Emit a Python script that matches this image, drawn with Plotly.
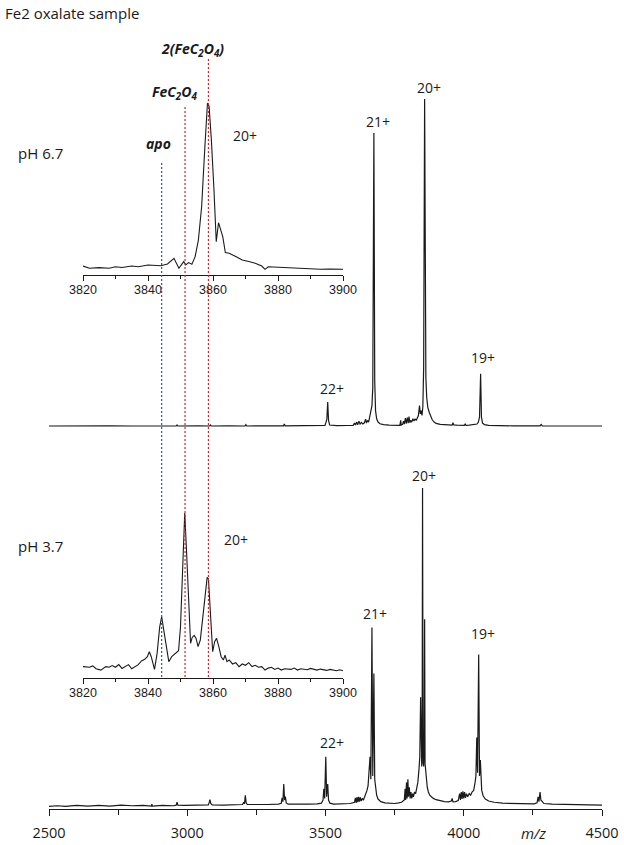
import plotly.graph_objects as go

W, H = 624, 845

# ---------------- data ----------------
# pH 6.7 full spectrum (m/z, relative intensity, 20+ = 100)
top_mz = [2500, 2560, 2640, 2720, 2800, 2880, 2960, 2963, 2966, 3040, 3081, 3084, 3087, 3150, 3209, 3212, 3215,
          3280, 3348, 3351, 3354, 3420, 3470, 3498, 3502, 3505, 3508, 3511, 3515, 3540, 3580, 3600, 3605, 3608,
          3613, 3616, 3621, 3625, 3630, 3635, 3640, 3645, 3648, 3652, 3656, 3660, 3664, 3668, 3671, 3675, 3678,
          3681, 3685, 3690, 3697, 3710, 3730, 3750, 3765, 3769, 3772, 3774, 3779, 3782, 3785, 3789, 3792, 3796,
          3799, 3802, 3805, 3808, 3812, 3816, 3820, 3824, 3828, 3832, 3836, 3840, 3843, 3846, 3849, 3852, 3855,
          3858.5, 3861, 3863, 3866, 3870, 3875, 3880, 3886, 3893, 3900, 3915, 3930, 3945, 3958, 3961, 3964, 3975,
          3990, 4002, 4005, 4008, 4020, 4030, 4040, 4048, 4053, 4057, 4061, 4064, 4068, 4075, 4090, 4120, 4180,
          4240, 4276, 4280, 4284, 4340, 4420, 4500]
top_int = [0.3, 0.35, 0.3, 0.35, 0.3, 0.35, 0.3, 0.6, 0.3, 0.35, 0.3, 0.6, 0.3, 0.35, 0.3, 0.7, 0.3,
           0.35, 0.35, 0.9, 0.35, 0.4, 0.4, 0.5, 1.5, 2.5, 7.6, 2.0, 0.6, 0.4, 0.45, 0.5, 1.2, 0.6,
           1.5, 0.7, 1.8, 0.9, 1.4, 0.9, 1.2, 2.4, 1.2, 2.0, 1.5, 3.0, 4.5, 6.5, 12, 89.6, 14,
           5, 2.5, 1.5, 1.0, 0.7, 0.6, 0.55, 0.6, 0.5, 2.0, 0.6, 0.8, 1.8, 0.9, 2.7, 1.0, 2.9,
           1.2, 3.2, 1.3, 2.0, 1.5, 2.5, 1.8, 2.5, 2.0, 3.0, 3.5, 6.5, 4.0, 5.0, 3.5, 6, 18,
           100, 30, 15, 9, 6, 4.5, 3.2, 2.2, 1.5, 1.1, 0.8, 0.7, 0.6, 0.6, 1.3, 0.6, 0.55,
           0.6, 0.5, 0.9, 0.5, 0.55, 0.6, 0.7, 0.9, 1.5, 3, 16.2, 3, 1.2, 0.7, 0.5, 0.4, 0.35,
           0.35, 0.35, 0.8, 0.35, 0.3, 0.3, 0.3]

# pH 3.7 full spectrum
bot_mz = [2500, 2530, 2560, 2600, 2640, 2680, 2720, 2760, 2800, 2840, 2870, 2872, 2874, 2910, 2950, 2960, 2963,
          2966, 2990, 3030, 3060, 3076, 3079, 3082, 3085, 3090, 3130, 3170, 3200, 3204, 3207, 3210, 3213, 3217,
          3250, 3290, 3330, 3340, 3343, 3346, 3349, 3352, 3355, 3358, 3365, 3400, 3440, 3470, 3485, 3491, 3494,
          3497, 3501, 3504, 3508, 3511, 3516, 3530, 3560, 3590, 3605, 3608, 3611, 3614, 3617, 3620, 3623, 3626,
          3629, 3633, 3637, 3642, 3646, 3650, 3654, 3658, 3661, 3664, 3668, 3671, 3675, 3678, 3681, 3685, 3690,
          3700, 3715, 3730, 3750, 3765, 3775, 3785, 3788, 3790, 3793, 3795, 3798, 3800, 3803, 3806, 3809, 3812,
          3815, 3818, 3822, 3826, 3830, 3834, 3838, 3841, 3844, 3846, 3848, 3849.5, 3851, 3853, 3855, 3857,
          3858.5, 3860, 3862, 3865, 3868, 3872, 3877, 3883, 3890, 3900, 3915, 3930, 3945, 3955, 3958, 3961,
          3970, 3980, 3985, 3988, 3991, 3994, 3997, 4000, 4003, 4006, 4010, 4014, 4020, 4025, 4030, 4036, 4041,
          4044, 4047, 4050, 4054, 4057, 4060, 4062, 4065, 4070, 4078, 4090, 4110, 4140, 4170, 4200, 4230, 4255,
          4265, 4269, 4272, 4276, 4279, 4283, 4290, 4320, 4360, 4400, 4440, 4470, 4500]
bot_int = [0.5, 0.7, 0.5, 0.8, 0.6, 0.8, 0.6, 0.9, 0.7, 0.8, 0.6, 1.2, 0.6, 0.8, 0.7, 0.9, 1.8,
           0.9, 0.8, 0.9, 0.8, 1.0, 1.6, 2.6, 1.4, 1.0, 0.9, 1.0, 1.1, 1.8, 1.3, 4.0, 1.6, 1.1,
           1.0, 1.1, 1.2, 1.5, 3.2, 2.0, 7.5, 2.5, 3.6, 1.6, 1.2, 1.1, 1.2, 1.3, 1.5, 2.5, 6,
           3, 16, 3.5, 7.5, 2.5, 1.5, 1.2, 1.2, 1.4, 1.8, 3.2, 1.6, 3.4, 1.8, 3.5, 2.0, 3.3,
           2.2, 3.0, 2.4, 3.5, 4.5, 5.5, 7, 12, 16, 9, 56.4, 10, 42, 9, 6, 4, 2.8,
           2.0, 1.6, 1.5, 1.4, 1.6, 1.8, 2.5, 6, 2.5, 8, 3, 9, 3.5, 6.5, 3, 5, 3,
           4.5, 3.5, 5, 4.5, 6, 8, 12, 16, 34.6, 14, 13, 22, 100, 14, 13, 20,
           59, 14, 12, 9, 6.5, 5, 4, 3.5, 3, 2.6, 2.2, 2.0, 1.9, 2.2, 3.0, 1.9,
           2.0, 2.3, 4.5, 2.5, 5, 2.8, 5.2, 3, 5, 3.2, 4.5, 3.5, 4.5, 4.0, 5, 5.5, 8,
           10, 22, 11, 48, 10, 15, 8, 5.5, 3.8, 2.8, 2.2, 1.8, 1.5, 1.4, 1.3, 1.3, 1.3,
           1.6, 3.5, 2, 5, 2.5, 2, 1.4, 1.2, 1.1, 1.0, 1.0, 0.9, 0.9]

# insets: 20+ region zoom
ins1_mz = [3820, 3822, 3825, 3828, 3830, 3832, 3835, 3837, 3840, 3842, 3844, 3846, 3848, 3849.5, 3851,
           3851.6, 3852.5, 3853.5, 3854.5, 3855.5, 3856.5, 3857.5, 3858.3, 3858.8, 3859.5, 3860.3, 3861,
           3861.7, 3862.3, 3863, 3863.8, 3865, 3867, 3869, 3871, 3873, 3875, 3876, 3877, 3880, 3883,
           3886, 3890, 3893, 3896, 3900]
ins1_int = [5.2, 3.9, 4.3, 3.9, 4.8, 4.4, 5.2, 4.8, 5.8, 5.4, 5.4, 6.4, 9.7, 3.9, 7.8,
            5.8, 7.2, 6.2, 10.7, 20.3, 39.7, 74.6, 100, 98, 78.5, 49.4, 19.4,
            30.4, 27, 22.3, 13, 12.6, 10.7, 8.7, 7.8, 6.8, 5.2, 3.3, 4.8, 4.5, 4.3,
            3.9, 3.7, 3.3, 3.5, 3.3]

ins2_mz = [3820, 3822, 3823, 3824, 3825.5, 3827, 3828, 3829, 3830, 3831, 3832, 3833, 3834, 3835, 3836,
           3837, 3838, 3839, 3839.8, 3840.4, 3841, 3841.5, 3842, 3842.8, 3843.6, 3844.2, 3845, 3845.7,
           3846.4, 3847.3, 3848.3, 3849.4, 3850, 3850.7, 3851.3, 3851.9, 3852.5, 3853.1, 3853.6, 3854.2,
           3854.8, 3855.4, 3856.1, 3856.8, 3857.5, 3858.2, 3858.6, 3859.2, 3859.9, 3860.5, 3861.1, 3861.8,
           3862.5, 3863.2, 3863.7, 3864.3, 3865, 3866, 3867, 3868, 3869, 3870, 3871, 3872, 3873, 3874,
           3875, 3876, 3877, 3878, 3879, 3880, 3881, 3882, 3884, 3885, 3886, 3887, 3889, 3890, 3892,
           3893, 3895, 3896, 3898, 3899, 3900]
ins2_int = [6.9, 6.5, 7.3, 5.6, 4.8, 6.9, 6.5, 7.5, 6.5, 8.1, 5.8, 6.9, 8.1, 5.6, 6.9,
            8.1, 10.3, 11.3, 12.9, 15.9, 12.9, 8.5, 5.2, 14.9, 31, 37, 27, 17,
            9.9, 12.9, 14.9, 16.5, 31, 71, 100, 75, 47, 21, 24.6, 25.8,
            24, 19, 23, 35, 47, 61, 60, 41, 16, 22, 24, 19,
            12.9, 10.9, 13.9, 9.9, 10.9, 8.5, 9.3, 6.9, 8.5, 7.7, 9.3, 6.9, 7.7, 6.5,
            6.9, 4.8, 6.0, 6.5, 5.2, 6.0, 4.8, 5.6, 5.2, 6.0, 4.8, 5.6, 5.0, 5.8, 4.8,
            5.4, 4.6, 5.2, 4.4, 5.0, 4.4]

marker_mz = [3844.2, 3851.4, 3858.6]          # apo, FeC2O4, 2(FeC2O4)
marker_col = ["#3050a8", "#d0232b", "#d0232b"]

top_labels = ["22+", "21+", "20+", "19+"]
top_label_mz = [3524, 3690, 3874, 4070]
bot_labels = ["22+", "21+", "20+", "19+"]
bot_label_mz = [3524, 3679, 3856, 4070]

main_ticks = [2500, 3000, 3500, 4000, 4500]
inset_ticks = [3820, 3840, 3860, 3880, 3900]

# ---------------- layout helpers ----------------
def fx(px):
    return px / W

def fy(py):
    return 1 - py / H

MAIN = "Open Sans"
ARIAL = "Liberation Sans"
LINE = dict(color="#1a1a1a", width=1.2)

fig = go.Figure()
fig.add_trace(go.Scatter(x=bot_mz, y=bot_int, mode="lines", line=LINE, xaxis="x", yaxis="y",
                         showlegend=False, hoverinfo="skip"))
fig.add_trace(go.Scatter(x=top_mz, y=top_int, mode="lines", line=LINE, xaxis="x2", yaxis="y2",
                         showlegend=False, hoverinfo="skip"))
fig.add_trace(go.Scatter(x=ins1_mz, y=ins1_int, mode="lines", line=dict(color="#1a1a1a", width=1.1),
                         xaxis="x3", yaxis="y3", showlegend=False, hoverinfo="skip"))
fig.add_trace(go.Scatter(x=ins2_mz, y=ins2_int, mode="lines", line=dict(color="#1a1a1a", width=1.1),
                         xaxis="x4", yaxis="y4", showlegend=False, hoverinfo="skip"))

hidden_y = dict(visible=False, showgrid=False, zeroline=False, fixedrange=True, automargin=False)

main_x = dict(range=[2500, 4500], domain=[fx(49), fx(602)], showgrid=False, zeroline=False,
              automargin=False,
              showline=True, linecolor="#1a1a1a", linewidth=1.2,
              ticks="outside", ticklen=6, tickwidth=1.1, tickcolor="#1a1a1a",
              tickvals=main_ticks, ticktext=[str(t) for t in main_ticks],
              tickfont=dict(family=MAIN, size=14.5, color="#1a1a1a"),
              minor=dict(tickvals=[2750, 3250, 3750, 4250], ticks="outside", ticklen=5,
                         tickwidth=1.1, tickcolor="#1a1a1a"),
              ticklabelstandoff=4)

inset_x_common = dict(range=[3820, 3900], domain=[fx(83), fx(343)], showgrid=False, zeroline=False,
                      automargin=False,
                      showline=True, linecolor="#1a1a1a", linewidth=1.1,
                      ticks="outside", ticklen=5, tickwidth=1, tickcolor="#1a1a1a",
                      tickvals=inset_ticks, ticktext=[str(t) for t in inset_ticks],
                      tickfont=dict(family=ARIAL, size=12.5, color="#1a1a1a"),
                      minor=dict(tickvals=[3830, 3850, 3870, 3890], ticks="outside", ticklen=3,
                                 tickwidth=1, tickcolor="#1a1a1a"),
                      ticklabelstandoff=-2)

fig.update_layout(
    template="none",
    width=W, height=H,
    margin=dict(l=0, r=0, t=0, b=0, autoexpand=False),
    paper_bgcolor="white", plot_bgcolor="rgba(0,0,0,0)",
    xaxis=dict(anchor="y", **main_x),
    yaxis=dict(domain=[fy(809), fy(470)], range=[-1 / 3.2, (808 - 470) / 3.2], anchor="x", **hidden_y),
    xaxis2=dict(anchor="y2", range=[2500, 4500], domain=[fx(49), fx(602)], visible=False,
                automargin=False, showgrid=False, zeroline=False),
    yaxis2=dict(domain=[fy(430), fy(87)], range=[-3 / 3.28, (427 - 87) / 3.28], anchor="x2", **hidden_y),
    xaxis3=dict(anchor="y3", **inset_x_common),
    yaxis3=dict(domain=[fy(275), fy(95)], range=[0, 180 / 1.72], anchor="x3", **hidden_y),
    xaxis4=dict(anchor="y4", **inset_x_common),
    yaxis4=dict(domain=[fy(678), fy(500)], range=[0, 178 / 1.65], anchor="x4", **hidden_y),
)

# dashed reference lines through both insets
line_tops = [161, 107, 59]
for mz, col, top in zip(marker_mz, marker_col, line_tops):
    fig.add_shape(type="line", xref="x3", yref="paper", x0=mz, x1=mz, y0=fy(677), y1=fy(top),
                  line=dict(color=col, width=1.2, dash="2px,2px"), layer="above")

ann = []
def text(s, px, py, size=14, family=MAIN, xanchor="center", xref="paper", x=None, yanchor="middle"):
    ann.append(dict(text=s, x=(fx(px) if x is None else x), y=fy(py), xref=xref, yref="paper",
                    xanchor=xanchor, yanchor=yanchor, showarrow=False,
                    font=dict(family=family, size=size, color="#1a1a1a")))

text("Fe2 oxalate sample", 3, 13, size=15, xanchor="left")
text("pH 6.7", 40, 153, size=15)
text("pH 3.7", 40, 546, size=15)
text("<b><i>apo</i></b>", 158, 143, size=14)
text("<b><i>FeC<sub>2</sub>O<sub>4</sub></i></b>", 174, 93, size=14)
text("<b><i>2(FeC<sub>2</sub>O<sub>4</sub>)</i></b>", 192, 49, size=14)
text("20+", 245, 135, size=14)
text("20+", 236, 539, size=14)

top_label_py = [388, 121, 87, 357]
for s, mz, py in zip(top_labels, top_label_mz, top_label_py):
    text(s, 0, py, size=14, xref="x", x=mz)
bot_label_py = [742, 613, 476, 633]
for s, mz, py in zip(bot_labels, bot_label_mz, bot_label_py):
    text(s, 0, py, size=14, xref="x", x=mz)

text("<i>m/z</i>", 533, 833, size=15)

fig.update_layout(annotations=ann)
fig.write_html("out.html", config={"displayModeBar": False},
               post_script="document.body.style.margin='0px';document.body.style.overflow='hidden';")
